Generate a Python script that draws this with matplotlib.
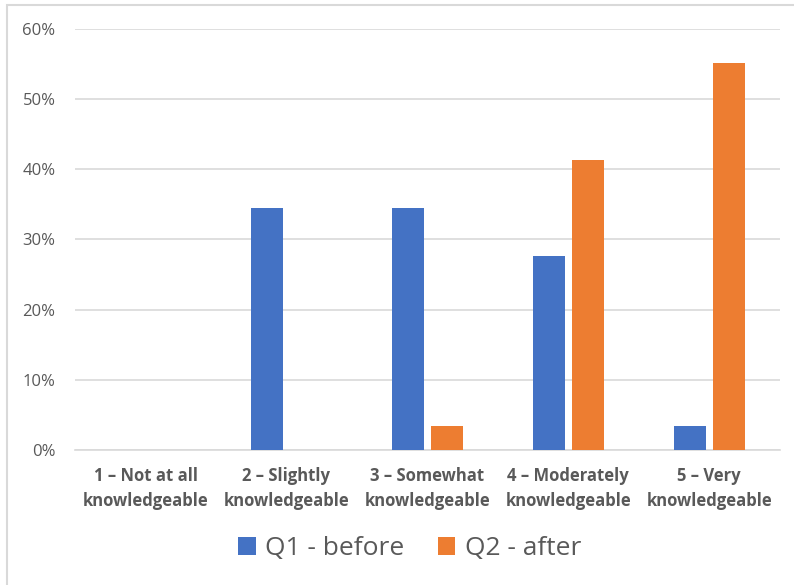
import matplotlib
matplotlib.use("Agg")
import matplotlib.pyplot as plt
from matplotlib.patches import Rectangle
import numpy as np

categories = ["1 \u2013 Not at all\nknowledgeable", "2 \u2013 Slightly\nknowledgeable",
              "3 \u2013 Somewhat\nknowledgeable", "4 \u2013 Moderately\nknowledgeable",
              "5 \u2013 Very\nknowledgeable"]
q1_before = [0.0, 34.5, 34.5, 27.6, 3.4]
q2_after = [0.0, 0.0, 3.4, 41.4, 55.2]
y_ticks = [0, 10, 20, 30, 40, 50, 60]

BLUE = "#4472c4"
ORANGE = "#ed7d31"
TXT = "#595959"
GRID = "#d9d9d9"

plt.rcParams["font.family"] = ["Open Sans", "DejaVu Sans"]

fig = plt.figure(figsize=(7.94, 5.85), dpi=100)
ax = fig.add_axes([0.0945, 0.2308, 0.8875, 0.7196])

x = np.arange(len(categories))
w = 0.227
off = 0.138
ax.bar(x - off, q1_before, w, color=BLUE, label="Q1 - before", zorder=3)
ax.bar(x + off, q2_after, w, color=ORANGE, label="Q2 - after", zorder=3)

ax.set_xlim(-0.5, len(categories) - 0.5)
ax.set_ylim(0, 60)
ax.set_yticks(y_ticks)
ax.set_yticklabels([f"{v}%" for v in y_ticks], color=TXT, fontsize=12)
ax.set_xticks(x)
ax.set_xticklabels(categories, color=TXT, fontsize=12, fontweight="bold",
                   linespacing=1.5)
ax.tick_params(length=0)
ax.tick_params(axis="y", pad=14)
ax.tick_params(axis="x", pad=12)
ax.grid(axis="y", color=GRID, linewidth=1.2, zorder=0)
for s in ["top", "right", "left"]:
    ax.spines[s].set_visible(False)
ax.spines["bottom"].set_color(GRID)
ax.spines["bottom"].set_linewidth(1.2)

leg = fig.legend(loc="center", bbox_to_anchor=(0.516, 0.062), ncol=2,
                 frameon=False, fontsize=19, handlelength=0.65, handleheight=0.65,
                 handletextpad=0.35, columnspacing=1.3)
for t in leg.get_texts():
    t.set_color(TXT)

# chart border, clipped by the image edges on the right and bottom
fig.patches.append(Rectangle((7 / 794, -0.05), 1.2, 1 - 5 / 585 + 0.05,
                             transform=fig.transFigure, fill=False,
                             edgecolor=GRID, linewidth=1.5))

fig.savefig("out.png", dpi=100)
